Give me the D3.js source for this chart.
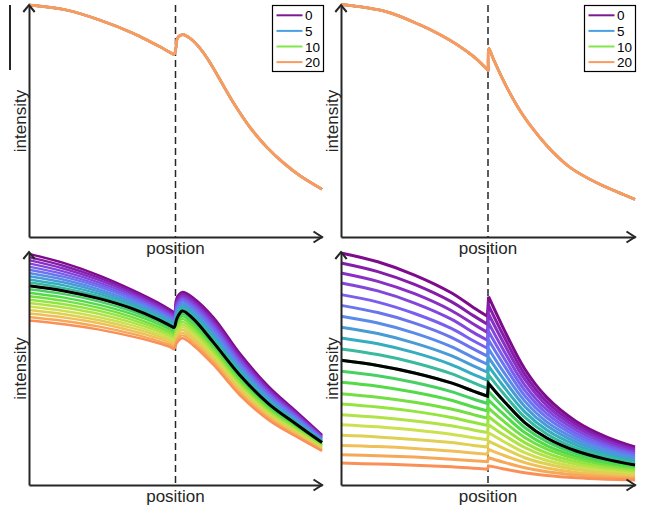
<!DOCTYPE html>
<html><head><meta charset="utf-8">
<script src="https://cdn.jsdelivr.net/npm/d3@7"></script>
<style>html,body{margin:0;padding:0;background:#fff}svg{display:block}</style>
</head><body>
<svg id="c" width="645" height="511"></svg>
<script>
// ---------------- data ----------------
const legendLabels = ["0", "5", "10", "20"];
const legendColors = ["#7b1a8e", "#4aa0e4", "#80e64a", "#fb9a5e"];
const interfaceX = 50;
const blackIndex = 10;

// top-left panel (all four series coincide)
const tlX = [0, 12.9, 24.2, 35.6, 41.3, 44.7, 48.1, 49.5, 50.2, 50.6, 51.5, 52.7, 55, 58.4, 61.2, 64.1, 67, 69.7, 75.4, 81.1, 86.8, 92.5, 100];
const tlY = [100, 97.8, 93.5, 87.8, 84.2, 82.0, 79.6, 78.8, 82.0, 85.6, 86.8, 87.2, 85.6, 81.3, 76.3, 70.2, 63.8, 58.0, 47.3, 38.8, 32.0, 26.4, 20.6];

// top-right panel (all four series coincide, jump at the interface)
const trX = [0, 15.5, 26.9, 33.7, 39.4, 45, 48, 50.1, 50.3, 51.8, 56.4, 62, 67.7, 72, 77.9, 84, 89.2, 100];
const trY = [100.2, 97.1, 91.4, 87.2, 83.0, 77.9, 74.4, 71.8, 81.3, 76.8, 64.5, 52.3, 42.8, 36.7, 30.0, 25.3, 22.0, 16.2];

// bottom-left panel: 21 curves (index 0..20), black = index 10
const blX = [0, 12, 24, 35, 44, 48.5, 49.5, 50.5, 52.3, 56, 63, 72, 82, 91, 100];
const blCurves = [
  [99.2, 95.2, 89.9, 83.9, 78.3, 75.0, 74.2, 80.5, 82.8, 80.4, 71.9, 56.4, 42.0, 31.8, 21.5],
  [97.8, 94.0, 88.9, 83.1, 77.6, 74.3, 73.5, 79.6, 82.0, 79.5, 70.8, 55.5, 41.2, 31.2, 21.2],
  [96.5, 92.8, 87.9, 82.3, 76.9, 73.6, 72.9, 78.7, 81.2, 78.6, 69.7, 54.5, 40.4, 30.7, 20.8],
  [95.1, 91.6, 86.9, 81.5, 76.1, 73.0, 72.2, 77.8, 80.4, 77.7, 68.7, 53.6, 39.7, 30.1, 20.5],
  [93.7, 90.4, 85.9, 80.7, 75.4, 72.3, 71.6, 76.9, 79.6, 76.8, 67.6, 52.6, 38.9, 29.5, 20.1],
  [92.4, 89.3, 85.0, 79.9, 74.7, 71.6, 70.9, 76.0, 78.8, 75.9, 66.5, 51.7, 38.1, 29.0, 19.8],
  [91.0, 88.1, 84.0, 79.0, 74.0, 70.9, 70.2, 75.1, 77.9, 75.0, 65.4, 50.7, 37.3, 28.4, 19.4],
  [89.6, 86.9, 83.0, 78.2, 73.3, 70.2, 69.6, 74.2, 77.1, 74.1, 64.3, 49.8, 36.5, 27.8, 19.1],
  [88.2, 85.7, 82.0, 77.4, 72.5, 69.6, 68.9, 73.3, 76.3, 73.2, 63.3, 48.8, 35.8, 27.2, 18.7],
  [86.9, 84.5, 81.0, 76.6, 71.8, 68.9, 68.3, 72.4, 75.5, 72.3, 62.2, 47.9, 35.0, 26.7, 18.4],
  [85.5, 83.3, 80.0, 75.8, 71.1, 68.2, 67.6, 71.5, 74.7, 71.4, 61.1, 47.1, 34.6, 26.3, 18.2],
  [84.0, 81.9, 78.7, 74.6, 70.1, 67.3, 66.7, 70.5, 73.5, 70.3, 60.1, 46.1, 33.6, 25.6, 17.7],
  [82.5, 80.4, 77.3, 73.4, 69.1, 66.4, 65.7, 69.4, 72.4, 69.1, 59.2, 45.2, 32.9, 25.1, 17.3],
  [81.0, 79.0, 76.0, 72.2, 68.0, 65.4, 64.8, 68.4, 71.2, 68.0, 58.2, 44.4, 32.3, 24.5, 17.0],
  [79.5, 77.6, 74.7, 71.0, 67.0, 64.5, 63.9, 67.3, 70.0, 66.8, 57.3, 43.5, 31.6, 24.0, 16.6],
  [78.1, 76.2, 73.4, 69.8, 66.0, 63.6, 63.0, 66.3, 68.9, 65.7, 56.3, 42.7, 31.0, 23.5, 16.3],
  [76.6, 74.7, 72.0, 68.6, 65.0, 62.7, 62.0, 65.2, 67.7, 64.6, 55.3, 41.9, 30.3, 23.0, 16.0],
  [75.1, 73.3, 70.7, 67.4, 64.0, 61.8, 61.1, 64.2, 66.5, 63.4, 54.4, 41.0, 29.7, 22.5, 15.6],
  [73.6, 71.9, 69.4, 66.2, 63.0, 60.8, 60.2, 63.1, 65.3, 62.3, 53.4, 40.2, 29.0, 21.9, 15.3],
  [72.1, 70.4, 68.0, 65.0, 61.9, 59.9, 59.2, 62.1, 64.2, 61.1, 52.5, 39.3, 28.4, 21.4, 14.9],
  [70.6, 69.0, 66.7, 63.8, 60.9, 59.0, 58.3, 61.0, 63.0, 60.0, 51.5, 38.5, 27.7, 20.9, 14.6]
];

// bottom-right panel: 21 curves (index 0..20), black = index 10, jump at the interface
const brX = [0, 12.5, 25, 37.5, 45, 49.8, 50.2, 55, 62.5, 70, 80, 90, 100];
const brCurves = [
  [99.6, 95.8, 90.1, 82.5, 76.2, 72.4, 80.8, 67.9, 49.8, 37.6, 27.3, 20.8, 16.3],
  [95.3, 91.6, 86.1, 78.7, 72.7, 69.0, 77.1, 64.8, 47.5, 35.8, 26.0, 19.8, 15.5],
  [91.0, 87.4, 82.1, 74.9, 69.1, 65.5, 73.4, 61.7, 45.3, 34.1, 24.8, 18.9, 14.8],
  [86.7, 83.3, 78.1, 71.2, 65.5, 62.1, 69.6, 58.5, 42.9, 32.3, 23.5, 17.9, 14.0],
  [81.7, 78.5, 73.6, 67.2, 61.9, 58.7, 65.9, 55.4, 40.6, 30.6, 22.2, 16.9, 13.2],
  [77.1, 74.0, 69.5, 63.4, 58.4, 55.3, 62.2, 52.3, 38.3, 28.9, 21.0, 16.0, 12.5],
  [72.4, 69.5, 65.2, 59.4, 54.7, 51.8, 58.5, 49.1, 36.0, 27.1, 19.7, 15.0, 11.7],
  [67.7, 65.0, 60.9, 55.5, 51.1, 48.4, 54.8, 46.0, 33.7, 25.4, 18.4, 14.0, 10.9],
  [63.1, 60.6, 56.8, 51.7, 47.5, 45.0, 51.0, 42.8, 31.4, 23.6, 17.1, 13.0, 10.1],
  [58.4, 56.0, 52.5, 47.8, 43.9, 41.5, 47.3, 39.7, 29.1, 21.9, 15.8, 12.1, 9.4],
  [53.5, 51.3, 48.1, 43.8, 40.3, 38.1, 43.6, 36.6, 26.8, 20.2, 14.6, 11.1, 8.6],
  [48.8, 46.9, 44.0, 40.1, 36.9, 35.0, 40.1, 33.7, 24.7, 18.6, 13.5, 10.2, 8.0],
  [44.1, 42.4, 39.8, 36.4, 33.5, 31.8, 36.5, 30.7, 22.5, 16.9, 12.3, 9.3, 7.3],
  [39.2, 37.7, 35.5, 32.6, 30.2, 28.7, 33.0, 27.7, 20.4, 15.4, 11.2, 8.5, 6.7],
  [34.8, 33.5, 31.6, 29.0, 26.9, 25.6, 29.4, 24.7, 18.2, 13.7, 10.0, 7.6, 6.0],
  [30.2, 29.1, 27.5, 25.4, 23.6, 22.5, 25.9, 21.8, 16.1, 12.2, 8.9, 6.8, 5.4],
  [25.9, 25.0, 23.6, 21.8, 20.3, 19.4, 22.4, 18.9, 13.9, 10.5, 7.7, 5.9, 4.7],
  [21.3, 20.6, 19.5, 18.2, 17.0, 16.3, 18.8, 15.9, 11.7, 9.0, 6.6, 5.1, 4.1],
  [17.0, 16.5, 15.7, 14.6, 13.7, 13.2, 15.3, 12.9, 9.6, 7.3, 5.4, 4.2, 3.4],
  [13.0, 12.6, 12.0, 11.1, 10.4, 10.0, 11.7, 9.9, 7.4, 5.7, 4.3, 3.4, 2.8],
  [9.4, 9.0, 8.5, 7.8, 7.2, 6.8, 8.2, 7.0, 5.3, 4.1, 3.1, 2.5, 2.1]
];

const xLabel = "position";
const yLabel = "intensity";

// colour map for the 21 curves (purple -> blue -> green -> yellow -> orange)
const cmapStops = ["#7e0a8c", "#8a2fc4", "#7a5ef0", "#5a8aea", "#34adc0", "#3ec67c", "#52da48", "#94e440", "#cde050", "#f0c058", "#fa9058"];

// ---------------- drawing ----------------
const ink = "#262626";
const font = "'Liberation Sans', Arial, Helvetica, sans-serif";
const svg = d3.select("#c");
const cmap = d3.scaleLinear()
  .domain(cmapStops.map((c, k) => k * 20 / (cmapStops.length - 1)))
  .range(cmapStops)
  .interpolate(d3.interpolateRgb);
const curveType = d3.curveCatmullRom.alpha(0.5);

const panels = [
  {x0: 29, x1: 322, yb: 237, yt: 5, dashTop: 5, labY: 254},
  {x0: 341, x1: 635, yb: 237, yt: 5, dashTop: 5, labY: 254},
  {x0: 29, x1: 322, yb: 485, yt: 252, dashTop: 245, labY: 502},
  {x0: 341, x1: 635, yb: 485, yt: 252, dashTop: 245, labY: 502}
];

function frame(p) {
  const x = d3.scaleLinear().domain([0, 100]).range([p.x0, p.x1]);
  const y = d3.scaleLinear().domain([0, 100]).range([p.yb, p.yt]);
  const g = svg.append("g");
  g.append("line")
    .attr("x1", x(interfaceX)).attr("x2", x(interfaceX))
    .attr("y1", p.dashTop).attr("y2", p.yb)
    .attr("stroke", ink).attr("stroke-width", 1.5).attr("stroke-dasharray", "7,4");
  return {x, y, g};
}

function axes(p, f) {
  const {x, y, g} = f;
  const ax = g.append("g").attr("transform", `translate(0,${p.yb})`)
    .call(d3.axisBottom(x).tickValues([]).tickSizeOuter(0));
  const ay = g.append("g").attr("transform", `translate(${p.x0},0)`)
    .call(d3.axisLeft(y).tickValues([]).tickSizeOuter(0));
  [ax, ay].forEach(a => a.select(".domain").attr("stroke", ink).attr("stroke-width", 2));
  g.append("path")
    .attr("d", `M${p.x0 - 5.7},${p.yt + 7} L${p.x0},${p.yt} L${p.x0 + 5.7},${p.yt + 7}`)
    .attr("fill", "none").attr("stroke", ink).attr("stroke-width", 2);
  g.append("path")
    .attr("d", `M${p.x1 - 8.5},${p.yb - 5.5} L${p.x1},${p.yb} L${p.x1 - 8.5},${p.yb + 5.5}`)
    .attr("fill", "none").attr("stroke", ink).attr("stroke-width", 2);
  g.append("text")
    .attr("x", x(interfaceX)).attr("y", p.labY)
    .attr("text-anchor", "middle").attr("font-family", font).attr("font-size", 17)
    .attr("fill", ink).text(xLabel);
  g.append("text")
    .attr("transform", `translate(${p.x0 - 3},${(p.yb + p.yt) / 2}) rotate(-90)`)
    .attr("text-anchor", "middle").attr("font-family", font).attr("font-size", 17)
    .attr("fill", ink).text(yLabel);
}

function smoothPath(f, xs, ys) {
  const line = d3.line().x(d => f.x(d[0])).y(d => f.y(d[1])).curve(curveType);
  return line(xs.map((v, k) => [v, ys[k]]));
}
function jumpPath(f, xs, ys) {
  const line = d3.line().x(d => f.x(d[0])).y(d => f.y(d[1])).curve(curveType);
  const pts = xs.map((v, k) => [v, ys[k]]);
  const left = pts.filter(d => d[0] < interfaceX);
  const right = pts.filter(d => d[0] > interfaceX);
  return line(left) + line(right).replace(/^M/, "L");
}

function legend(f, bx, by) {
  const g = f.g.append("g");
  g.append("rect").attr("x", bx + 0.5).attr("y", by + 0.5).attr("width", 51).attr("height", 66)
    .attr("fill", "#fff").attr("stroke", "#000").attr("stroke-width", 1.2);
  legendLabels.forEach((lab, k) => {
    const yy = by + 10.3 + k * 15.6;
    g.append("line").attr("x1", bx + 4.5).attr("x2", bx + 30.5).attr("y1", yy).attr("y2", yy)
      .attr("stroke", legendColors[k]).attr("stroke-width", 2);
    g.append("text").attr("x", bx + 33).attr("y", yy + 5).attr("font-family", font)
      .attr("font-size", 13.5).attr("fill", "#000").text(lab);
  });
}

// stray vertical bar at far left of the top-left panel
svg.append("line").attr("x1", 10).attr("x2", 10).attr("y1", 5).attr("y2", 70)
  .attr("stroke", ink).attr("stroke-width", 2);

// --- top-left ---
{
  const p = panels[0], f = frame(p);
  legendLabels.forEach((lab, k) => {
    f.g.append("path").attr("d", smoothPath(f, tlX, tlY)).attr("fill", "none")
      .attr("stroke", legendColors[k]).attr("stroke-width", k === 3 ? 3 : 2.4)
      .attr("stroke-linejoin", "round");
  });
  axes(p, f);
  legend(f, 272, 5);
}
// --- top-right ---
{
  const p = panels[1], f = frame(p);
  legendLabels.forEach((lab, k) => {
    f.g.append("path").attr("d", jumpPath(f, trX, trY)).attr("fill", "none")
      .attr("stroke", legendColors[k]).attr("stroke-width", k === 3 ? 3 : 2.4)
      .attr("stroke-linejoin", "round");
  });
  axes(p, f);
  legend(f, 584, 5);
}
// --- bottom-left ---
{
  const p = panels[2], f = frame(p);
  blCurves.forEach((ys, i) => {
    f.g.append("path").attr("d", smoothPath(f, blX, ys)).attr("fill", "none")
      .attr("stroke", cmap(i)).attr("stroke-width", 2.4);
  });
  f.g.append("path").attr("d", smoothPath(f, blX, blCurves[blackIndex])).attr("fill", "none")
    .attr("stroke", "#000").attr("stroke-width", 3);
  axes(p, f);
}
// --- bottom-right ---
{
  const p = panels[3], f = frame(p);
  brCurves.forEach((ys, i) => {
    f.g.append("path").attr("d", jumpPath(f, brX, ys)).attr("fill", "none")
      .attr("stroke", cmap(i)).attr("stroke-width", 3);
  });
  f.g.append("path").attr("d", jumpPath(f, brX, brCurves[blackIndex])).attr("fill", "none")
    .attr("stroke", "#000").attr("stroke-width", 3);
  axes(p, f);
}
</script>
</body></html>
